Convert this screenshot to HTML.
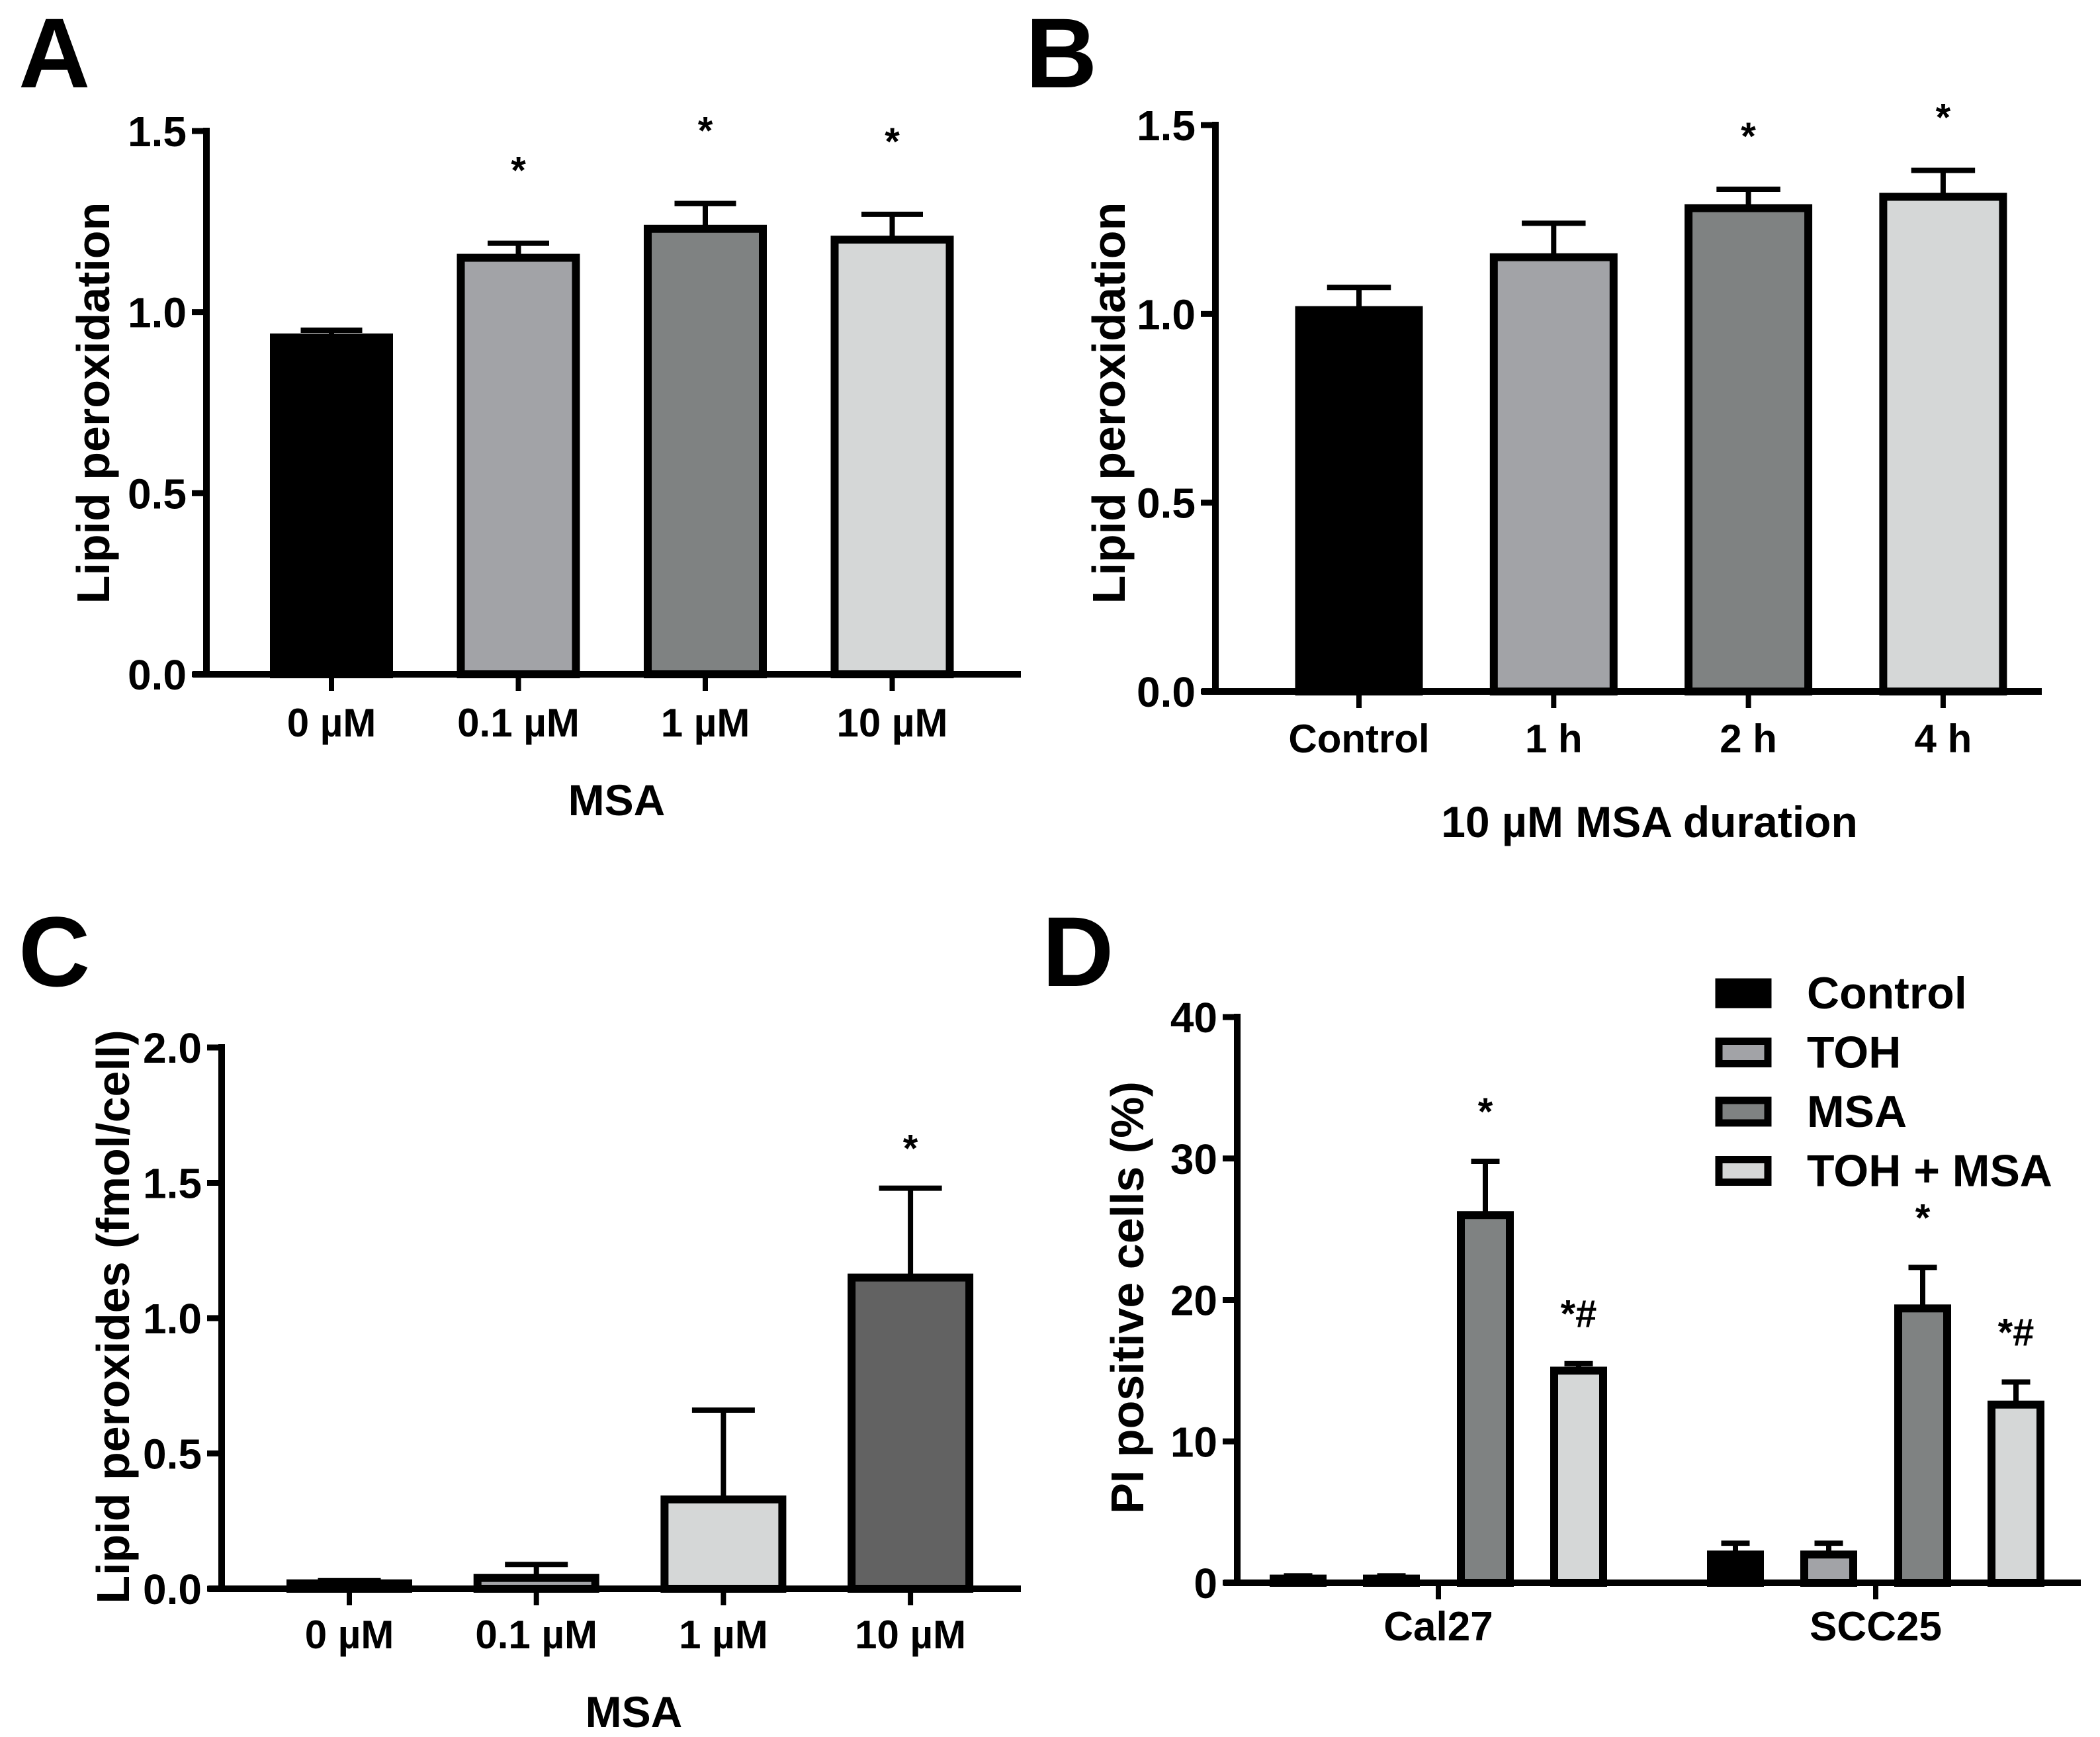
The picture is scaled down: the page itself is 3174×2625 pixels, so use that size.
<!DOCTYPE html>
<html><head><meta charset="utf-8"><style>
html,body{margin:0;padding:0;background:#fff}
svg{display:block}
text{font-family:"Liberation Sans",Arial,sans-serif;font-weight:bold;fill:#000}
</style></head><body>
<svg id="fig" width="3174" height="2625" viewBox="0 0 3174 2625" xmlns="http://www.w3.org/2000/svg">
<text x="28" y="132" font-size="150">A</text>
<text x="1550" y="132" font-size="150">B</text>
<text x="28" y="1490" font-size="150">C</text>
<text x="1575" y="1490" font-size="150">D</text>
</svg>
<script>
// Panel A
const aCategories = ["0 µM","0.1 µM","1 µM","10 µM"];
const aValues = [0.93,1.15,1.23,1.20];
const aErrors = [0.95,1.19,1.30,1.27];
const aSig = ["","*","*","*"];
const aTicks = [0.0,0.5,1.0,1.5];
const aTickLabels = ["0.0","0.5","1.0","1.5"];
// Panel B
const bCategories = ["Control","1 h","2 h","4 h"];
const bValues = [1.01,1.15,1.28,1.31];
const bErrors = [1.07,1.24,1.33,1.38];
const bSig = ["","","*","*"];
const bTicks = [0.0,0.5,1.0,1.5];
const bTickLabels = ["0.0","0.5","1.0","1.5"];
// Panel C
const cCategories = ["0 µM","0.1 µM","1 µM","10 µM"];
const cValues = [0.02,0.04,0.33,1.15];
const cErrors = [0.03,0.09,0.66,1.48];
const cSig = ["","","","*"];
const cTicks = [0.0,0.5,1.0,1.5,2.0];
const cTickLabels = ["0.0","0.5","1.0","1.5","2.0"];
// Panel D
const dGroups = ["Cal27","SCC25"];
const dSeries = ["Control","TOH","MSA","TOH + MSA"];
const dControl = [0.3,2.0];
const dToh = [0.3,2.0];
const dMsa = [26.0,19.4];
const dTohMsa = [15.0,12.6];
const dControlErr = [0.5,2.8];
const dTohErr = [0.5,2.8];
const dMsaErr = [29.8,22.3];
const dTohMsaErr = [15.5,14.2];
const dMsaSig = ["*","*"];
const dTohMsaSig = ["*#","*#"];
const dTicks = [0,10,20,30,40];
const dTickLabels = ["0","10","20","30","40"];

const NS="http://www.w3.org/2000/svg";
const svg=document.getElementById('fig');
function mk(tag,attrs,parent){const e=document.createElementNS(NS,tag);for(const k in attrs)e.setAttribute(k,attrs[k]);(parent||svg).appendChild(e);return e;}
function txt(s,attrs,parent){const e=mk('text',attrs,parent);e.textContent=s;return e;}

function axes(p,g,ticks,labels,title){
  const y=v=>p.y0-(v-p.vmin)/(p.vmax-p.vmin)*(p.y0-p.y1);
  const yl=mk('line',{x1:p.ax,y1:p.y1-5,x2:p.ax,y2:p.y0+5,stroke:'#000','stroke-width':10},g);
  
  
  const xl=mk('line',{x1:p.ax-20,y1:p.y0,x2:p.xend,y2:p.y0,stroke:'#000','stroke-width':10},g);
  
  
  ticks.forEach((t,i)=>{
    const yy=y(t);
    const tk=mk('line',{x1:p.ax-22,y1:yy,x2:p.ax,y2:yy,stroke:'#000','stroke-width':9},g);
    
    
    const tl=txt(labels[i],{x:p.ax-30,y:yy+23,'font-size':64,'text-anchor':'end'},g);
    
    
  });
  const yt=txt(title,{x:0,y:0,'font-size':70,'text-anchor':'middle',transform:`translate(${p.tx},${p.ty}) rotate(-90)`},g);
  
  
  return y;
}
function bar(g,cx,w,y0,yv,ye,fill,sig,name,sigGap){
  const top=yv, err=ye;
  const el=mk('line',{x1:cx,y1:err,x2:cx,y2:top,stroke:'#000','stroke-width':8},g);
  
  
  const ec=mk('line',{x1:cx-w*0.25,y1:err,x2:cx+w*0.25,y2:err,stroke:'#000','stroke-width':8},g);
  
  
  const r=mk('rect',{x:cx-w/2+6,y:top,width:w-12,height:Math.max(0,y0-top),fill:fill,stroke:'#000','stroke-width':12},g);
  
  
  if(sig){const s=txt(sig,{x:cx,y:err-(sigGap||75),'font-size':58,'text-anchor':'middle'},g);
    
    }
}
function simplePanel(id,p,cats,vals,errs,sigs,ticks,labels,colors,title,xtitle){
  const g=mk('g',{});
  
  
  const y=axes(p,g,ticks,labels,title);
  cats.forEach((c,i)=>{
    const cx=p.c0+i*p.step;
    bar(g,cx,p.bw,p.y0,y(vals[i]),y(errs[i]),colors[i],sigs[i],'bar-'+id+'-'+i,p.sg);
    const tk=mk('line',{x1:cx,y1:p.y0,x2:cx,y2:p.y0+25,stroke:'#000','stroke-width':8},g);
    
    
    const l=txt(c,{x:cx,y:p.lab,'font-size':60,'text-anchor':'middle'},g);
    
    
  });
  const xt=txt(xtitle,{x:p.xtx,y:p.xty,'font-size':66,'text-anchor':'middle'},g);
  
  
}
simplePanel('a',{ax:312,y0:1019,y1:198,vmin:0,vmax:1.5,xend:1543,tx:165,ty:609,c0:501,step:282.5,bw:186,lab:1113,xtx:932,xty:1232,sg:90},
  aCategories,aValues,aErrors,aSig,aTicks,aTickLabels,['#000','#a2a3a7','#7f8282','#d5d7d7'],'Lipid peroxidation','MSA');
simplePanel('b',{ax:1837,y0:1045,y1:189,vmin:0,vmax:1.5,xend:3086,tx:1700,ty:609,c0:2054,step:294.3,bw:193,lab:1137,xtx:2493,xty:1265,sg:60},
  bCategories,bValues,bErrors,bSig,bTicks,bTickLabels,['#000','#a2a3a7','#7f8282','#d5d7d7'],'Lipid peroxidation','10 µM MSA duration');
simplePanel('c',{ax:335,y0:2401,y1:1583,vmin:0,vmax:2.0,xend:1543,tx:195,ty:1990,c0:528,step:282.7,bw:190,lab:2491,xtx:958,xty:2610,sg:40},
  cCategories,cValues,cErrors,cSig,cTicks,cTickLabels,['#000','#a2a3a7','#d5d7d7','#626262'],'Lipid peroxides (fmol/cell)','MSA');

// Panel D
(function(){
  const p={ax:1870,y0:2392,y1:1537,vmin:0,vmax:40,xend:3145,tx:1728,ty:1961};
  const g=mk('g',{});
  
  
  const y=axes(p,g,dTicks,dTickLabels,'PI positive cells (%)');
  const vals=[dControl,dToh,dMsa,dTohMsa];
  const errs=[dControlErr,dTohErr,dMsaErr,dTohMsaErr];
  const sigs=[["",""],["",""],dMsaSig,dTohMsaSig];
  const colors=['#000','#a2a3a7','#7f8282','#d5d7d7'];
  const gc=[2174,2835], off=[-212,-71,71,212], bw=86;
  dGroups.forEach((gname,gi)=>{
    for(let s=0;s<4;s++){
      bar(g,gc[gi]+off[s],bw,p.y0,y(vals[s][gi]),y(errs[s][gi]),colors[s],sigs[s][gi],'bar-'+gname.toLowerCase()+'-'+s,55);
    }
    const tk=mk('line',{x1:gc[gi],y1:p.y0,x2:gc[gi],y2:p.y0+25,stroke:'#000','stroke-width':8},g);
    
    
    const l=txt(gname,{x:gc[gi],y:2479,'font-size':62,'text-anchor':'middle'},g);
    
    
  });
  const lg=mk('g',{},g);
  
  
  dSeries.forEach((s,i)=>{
    const yy=1500+i*89.5;
    const r=mk('rect',{x:2598,y:yy-16,width:74,height:34,fill:colors[i],stroke:'#000','stroke-width':11},lg);
    
    
    const t=txt(s,{x:2731,y:yy+24,'font-size':68},lg);
    
    
  });
})();
</script>
</body></html>
